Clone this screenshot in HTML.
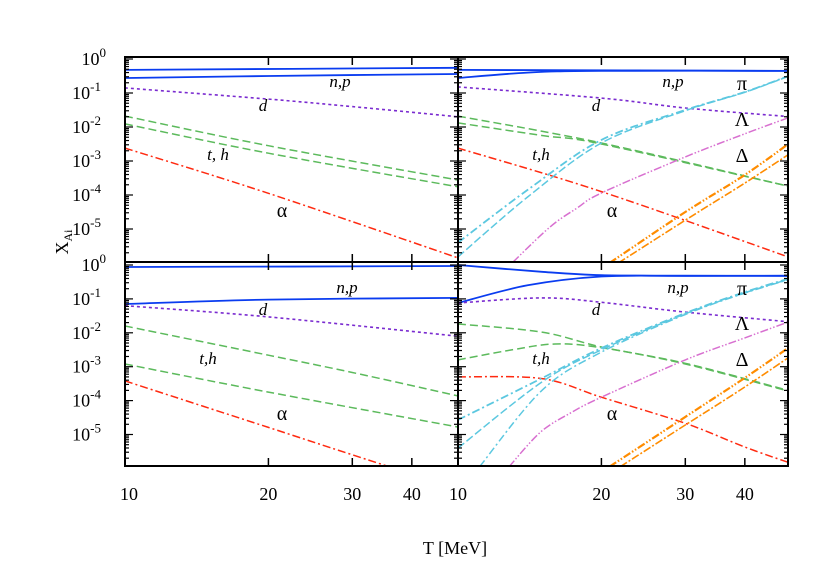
<!DOCTYPE html>
<html><head><meta charset="utf-8"><style>
html,body{margin:0;padding:0;background:#fff;}
svg{display:block;font-family:"Liberation Serif",serif;}
</style></head><body>
<svg id="chart" width="830" height="583" viewBox="0 0 830 583" xmlns="http://www.w3.org/2000/svg">
<defs>
<clipPath id="clipTL"><rect x="125" y="57" width="333" height="205"/></clipPath>
<clipPath id="clipTR"><rect x="458" y="57" width="330" height="205"/></clipPath>
<clipPath id="clipBL"><rect x="125" y="262" width="333" height="204"/></clipPath>
<clipPath id="clipBR"><rect x="458" y="262" width="330" height="204"/></clipPath>
</defs>
<g id="marks"></g>
<g id="axes"></g>
<g id="labels" font-size="18">
<text x="455" y="554" text-anchor="middle" font-size="18">T [MeV]</text>
<text transform="translate(68,242) rotate(-90)" text-anchor="middle" font-size="18">X<tspan font-size="12" dy="4">Ai</tspan></text>
</g>
</svg>
<script>
// x tick labels / categories
const xTicks = [10, 20, 30, 40];
const yTickExps = [0, -1, -2, -3, -4, -5];
// Top-left
const TL_n_T=[10,50], TL_n_V=[-0.32,-0.26];
const TL_p_T=[10,20,50], TL_p_V=[-0.56,-0.5,-0.44];
const TL_d_T=[10,20,30,50], TL_d_V=[-0.85,-1.18,-1.4,-1.7];
const TL_t_T=[10,20,50], TL_t_V=[-1.68,-2.55,-3.56];
const TL_h_T=[10,20,50], TL_h_V=[-1.91,-2.77,-3.76];
const TL_a_T=[10,20,50], TL_a_V=[-2.62,-3.95,-5.85];
// Top-right
const TR_n_T=[10,50], TR_n_V=[-0.32,-0.35];
const TR_p_T=[10,14,20,50], TR_p_V=[-0.56,-0.4,-0.35,-0.35];
const TR_d_T=[10,20,30,50], TR_d_V=[-0.82,-1.15,-1.44,-1.7];
const TR_t_T=[10,20,50], TR_t_V=[-1.68,-2.47,-3.76];
const TR_h_T=[10,15,20,50], TR_h_V=[-1.88,-2.25,-2.5,-3.76];
const TR_a_T=[10,20,50], TR_a_V=[-2.62,-3.9,-5.85];
const TR_pi1_T=[10,14,20,30,40,50], TR_pi1_V=[-5.4,-3.85,-2.38,-1.5,-0.97,-0.47];
const TR_pi2_T=[10,14,20,30,40,50], TR_pi2_V=[-5.82,-4.06,-2.47,-1.52,-0.98,-0.48];
const TR_L_T=[13.05,15.6,17.8,20,30,40,50], TR_L_V=[-5.97,-4.94,-4.38,-3.94,-2.88,-2.2,-1.7];
const TR_D1_T=[20.8,30,40,50], TR_D1_V=[-6.0,-4.5,-3.41,-2.44];
const TR_D2_T=[21.7,30,40,50], TR_D2_V=[-6.0,-4.74,-3.65,-2.76];
// Bottom-left
const BL_n_T=[10,50], BL_n_V=[-0.06,-0.03];
const BL_p_T=[10,20,50], BL_p_V=[-1.15,-1.02,-0.97];
const BL_d_T=[10,20,50], BL_d_V=[-1.2,-1.53,-2.1];
const BL_t_T=[10,20,30,50], BL_t_V=[-1.8,-2.66,-3.17,-3.86];
const BL_h_T=[10,20,50], BL_h_V=[-2.92,-3.75,-4.78];
const BL_a_T=[10,20,30,50], BL_a_V=[-3.42,-4.79,-5.6,-6.6];
// Bottom-right
const BR_n_T=[10,15,20,30,50], BR_n_V=[0,-0.2,-0.3,-0.32,-0.32];
const BR_p_T=[10,14,20,30,50], BR_p_V=[-1.12,-0.6,-0.34,-0.32,-0.32];
const BR_d_T=[10,15,20,30,50], BR_d_V=[-1.12,-0.97,-1.1,-1.39,-1.68];
const BR_t_T=[10,15,20,30,50], BR_t_V=[-1.74,-1.98,-2.42,-2.9,-3.72];
const BR_h_T=[10,13,16,20,30,50], BR_h_V=[-2.8,-2.5,-2.33,-2.44,-2.92,-3.74];
const BR_a_T=[10,15,20,30,40,50], BR_a_V=[-3.3,-3.35,-3.9,-4.67,-5.37,-5.85];
const BR_pi1_T=[10,15,20,30,40,50], BR_pi1_V=[-4.57,-3.34,-2.45,-1.42,-0.8,-0.38];
const BR_pi2_T=[10,15,20,30,40,50], BR_pi2_V=[-5.4,-3.45,-2.5,-1.44,-0.82,-0.4];
const BR_pi3_T=[11.1,15,20,30,40,50], BR_pi3_V=[-5.95,-3.7,-2.57,-1.46,-0.83,-0.41];
const BR_L_T=[12.8,14.9,17.3,20,30,40,50], BR_L_V=[-5.95,-4.93,-4.35,-3.9,-2.8,-2.15,-1.65];
const BR_D1_T=[20.8,30,40,50], BR_D1_V=[-5.95,-4.48,-3.33,-2.39];
const BR_D2_T=[21.9,30,40,50], BR_D2_V=[-5.95,-4.72,-3.6,-2.68];

const NS='http://www.w3.org/2000/svg';
const panels={
 TL:{x0:125,y0:59,k:34,top:57,bot:262,clip:'clipTL'},
 TR:{x0:458,y0:59,k:34,top:57,bot:262,clip:'clipTR'},
 BL:{x0:125,y0:265,k:33.9,top:262,bot:466,clip:'clipBL'},
 BR:{x0:458,y0:265,k:33.9,top:262,bot:466,clip:'clipBR'}
};
const W=333;
function xScale(p,T){return panels[p].x0+W*Math.log(T/10)/Math.log(5);}
function yScale(p,v){return panels[p].y0-v*panels[p].k;}
const styles={
 n:{c:'#0a3cf0',d:'',w:1.8},p:{c:'#0a3cf0',d:'',w:1.8},
 d:{c:'#7a2bd0',d:'3,3',w:1.6},
 t:{c:'#5cba5c',d:'8,4',w:1.5},h:{c:'#5cba5c',d:'8,4',w:1.5},
 a:{c:'#ff2a10',d:'8,3,2,3',w:1.5},
 pi1:{c:'#5cc8e0',d:'8,3,2,3',w:1.8},pi2:{c:'#5cc8e0',d:'8,3',w:1.5},pi3:{c:'#5cc8e0',d:'8,3,2,3',w:1.5},
 L:{c:'#d870d0',d:'8,2,1.5,2,1.5,2',w:1.5},
 D1:{c:'#ff8c00',d:'8,2,1.5,2,1.5,2',w:2.2},D2:{c:'#ff8c00',d:'8,2,2,2',w:1.6}
};
const g=document.getElementById('marks');
function pathFor(pts){
 let d='M'+pts[0][0].toFixed(1)+','+pts[0][1].toFixed(1);
 for(let i=0;i<pts.length-1;i++){
  const p0=pts[i-1]||pts[i],p1=pts[i],p2=pts[i+1],p3=pts[i+2]||p2;
  const c1=[p1[0]+(p2[0]-p0[0])/6,p1[1]+(p2[1]-p0[1])/6];
  const c2=[p2[0]-(p3[0]-p1[0])/6,p2[1]-(p3[1]-p1[1])/6];
  d+=' C'+c1.map(v=>v.toFixed(1)).join(',')+' '+c2.map(v=>v.toFixed(1)).join(',')+' '+p2[0].toFixed(1)+','+p2[1].toFixed(1);
 }
 return d;
}
const seriesList={
 TL:{n:[TL_n_T,TL_n_V],p:[TL_p_T,TL_p_V],d:[TL_d_T,TL_d_V],t:[TL_t_T,TL_t_V],h:[TL_h_T,TL_h_V],a:[TL_a_T,TL_a_V]},
 TR:{n:[TR_n_T,TR_n_V],p:[TR_p_T,TR_p_V],d:[TR_d_T,TR_d_V],t:[TR_t_T,TR_t_V],h:[TR_h_T,TR_h_V],a:[TR_a_T,TR_a_V],pi1:[TR_pi1_T,TR_pi1_V],pi2:[TR_pi2_T,TR_pi2_V],L:[TR_L_T,TR_L_V],D1:[TR_D1_T,TR_D1_V],D2:[TR_D2_T,TR_D2_V]},
 BL:{n:[BL_n_T,BL_n_V],p:[BL_p_T,BL_p_V],d:[BL_d_T,BL_d_V],t:[BL_t_T,BL_t_V],h:[BL_h_T,BL_h_V],a:[BL_a_T,BL_a_V]},
 BR:{n:[BR_n_T,BR_n_V],p:[BR_p_T,BR_p_V],d:[BR_d_T,BR_d_V],t:[BR_t_T,BR_t_V],h:[BR_h_T,BR_h_V],a:[BR_a_T,BR_a_V],pi1:[BR_pi1_T,BR_pi1_V],pi2:[BR_pi2_T,BR_pi2_V],pi3:[BR_pi3_T,BR_pi3_V],L:[BR_L_T,BR_L_V],D1:[BR_D1_T,BR_D1_V],D2:[BR_D2_T,BR_D2_V]}
};
for(const pk in seriesList){
 for(const sk in seriesList[pk]){
  const [Ts,Vs]=seriesList[pk][sk];
  const pts=Ts.map((T,i)=>[xScale(pk,T),yScale(pk,Vs[i])]);
  const el=document.createElementNS(NS,'path');
  el.setAttribute('d',pathFor(pts));
  const st=styles[sk];
  el.setAttribute('fill','none');el.setAttribute('stroke',st.c);el.setAttribute('stroke-width',st.w);
  if(st.d)el.setAttribute('stroke-dasharray',st.d);
  el.setAttribute('clip-path','url(#'+panels[pk].clip+')');
  
  
  g.appendChild(el);
 }
}
// axes
const ax=document.getElementById('axes');
function line(x1,y1,x2,y2,w){const l=document.createElementNS(NS,'line');l.setAttribute('x1',x1);l.setAttribute('y1',y1);l.setAttribute('x2',x2);l.setAttribute('y2',y2);l.setAttribute('stroke','#000');l.setAttribute('stroke-width',w||1.5);ax.appendChild(l);return l;}
for(const pk in panels){
 const P=panels[pk];
 const r=document.createElementNS(NS,'rect');
 r.setAttribute('x',P.x0);r.setAttribute('y',P.top);r.setAttribute('width',pk[1]==='R'?330:W);r.setAttribute('height',P.bot-P.top);
 r.setAttribute('fill','none');r.setAttribute('stroke','#000');r.setAttribute('stroke-width','2');
 
 
 ax.appendChild(r);
 const xr=P.x0+(pk[1]==='R'?330:W);
 for(let e=0;e>=-6;e--){
  for(let m=1;m<10;m++){
   const v=e+Math.log10(m);
   const y=yScale(pk,v);
   if(y<P.top+0.5||y>P.bot-0.5)continue;
   const len=m===1?8:4;
   line(P.x0,y,P.x0+len,y,1.2);line(xr,y,xr-len,y,1.2);
  }
 }
 [20,30,40].forEach(T=>{const x=xScale(pk,T);line(x,P.top,x,P.top+8,1.5);line(x,P.bot,x,P.bot-8,1.5);});
}
const lab=document.getElementById('labels');
function txt(x,y,s,name,opts){const t=document.createElementNS(NS,'text');t.setAttribute('x',x);t.setAttribute('y',y);t.textContent=s;if(opts)for(const k in opts)t.setAttribute(k,opts[k]);
 
 
 lab.appendChild(t);return t;}
// y tick labels
['TL','BL'].forEach(pk=>{
 yTickExps.forEach(e=>{
  const y=yScale(pk,e);
  const t=txt(113,y+6,'10','y-tick-label',{'text-anchor':'end'});
  const ts=document.createElementNS(NS,'tspan');ts.setAttribute('dy','-8');ts.setAttribute('font-size','13');ts.textContent=String(e);
  t.appendChild(ts);
  t.setAttribute('x',113-(e===0?7:12));
 });
});
// x tick labels
['BL','BR'].forEach(pk=>{
 xTicks.forEach(T=>{txt(xScale(pk,T)+(T===10&&pk==='BL'?4:0),500,String(T),'x-tick-label',{'text-anchor':'middle'});});
});
// species labels
const sl=[
 ['TL','n,p',340,87,1],['TL','d',263,111,1],['TL','t, h',218,160,1],['TL','α',282,217,0],
 ['TR','n,p',673,87,1],['TR','π',742,90,0],['TR','d',596,111,1],['TR','Λ',742,126,0],['TR','t,h',541,160,1],['TR','Δ',742,162,0],['TR','α',612,217,0],
 ['BL','n,p',347,293,1],['BL','d',263,315,1],['BL','t,h',208,364,1],['BL','α',282,420,0],
 ['BR','n,p',678,293,1],['BR','π',742,295,0],['BR','d',596,315,1],['BR','Λ',742,330,0],['BR','t,h',541,364,1],['BR','Δ',742,366,0],['BR','α',612,420,0]
];
sl.forEach(s=>{txt(s[2],s[3],s[1],'species-label-'+s[0].toLowerCase(),{'text-anchor':'middle','font-style':s[4]?'italic':'normal','font-size':s[4]?'17':'20'});});
</script>
</body></html>
